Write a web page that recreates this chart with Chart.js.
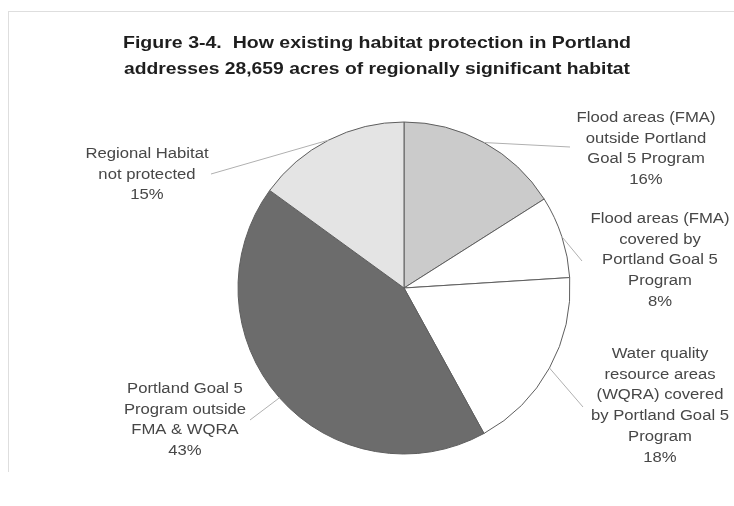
<!DOCTYPE html>
<html>
<head>
<meta charset="utf-8">
<script src="https://cdn.jsdelivr.net/npm/chart.js@4.4.1/dist/chart.umd.min.js"></script>
<style>
  html, body { margin: 0; padding: 0; background: #ffffff; }
  #wrap { position: relative; width: 734px; height: 506px; }
  #frame { position: absolute; left: 8px; top: 11px; width: 726px; height: 460px;
           border-top: 1px solid #dedede; border-left: 1px solid #dedede; }
  canvas { position: absolute; left: 0; top: 0; }
</style>
</head>
<body>
<div id="wrap">
  <div id="frame"></div>
  <canvas id="c" width="734" height="506"></canvas>
</div>
<script>
// ---- data ----
const titleLines = [
  "Figure 3-4.  How existing habitat protection in Portland",
  "addresses 28,659 acres of regionally significant habitat"
];
const categories = [
  ["Flood areas (FMA)", "outside Portland", "Goal 5 Program"],
  ["Flood areas (FMA)", "covered by", "Portland Goal 5", "Program"],
  ["Water quality", "resource areas", "(WQRA) covered", "by Portland Goal 5", "Program"],
  ["Portland Goal 5", "Program outside", "FMA & WQRA"],
  ["Regional Habitat", "not protected"]
];
const values = [16, 8, 18, 43, 15];
const sliceColors = ["#cbcbcb", "#ffffff", "#ffffff", "#6c6c6c", "#e4e4e4"];

// ---- label layout (pixel positions of text blocks and leader ends) ----
const labelLayout = [
  { x: 646, y: 118, ex: 570, ey: 147 },
  { x: 660, y: 219, ex: 582, ey: 261 },
  { x: 660, y: 354, ex: 583, ey: 407 },
  { x: 185, y: 389, ex: 250, ey: 420 },
  { x: 147, y: 154, ex: 211, ey: 174 }
];
const lineGap = 20.8;
const labelStretch = 1.19;

const labelPlugin = {
  id: 'pieLabels',
  afterDraw(chart) {
    const ctx = chart.ctx;
    const meta = chart.getDatasetMeta(0);
    ctx.save();
    // leader lines
    ctx.strokeStyle = '#b0b0b0';
    ctx.lineWidth = 1;
    meta.data.forEach((arc, i) => {
      const p = arc.getProps(['x', 'y', 'startAngle', 'endAngle', 'outerRadius'], true);
      const mid = (p.startAngle + p.endAngle) / 2;
      const ax = p.x + Math.cos(mid) * p.outerRadius;
      const ay = p.y + Math.sin(mid) * p.outerRadius;
      const L = labelLayout[i];
      ctx.beginPath();
      ctx.moveTo(ax, ay);
      ctx.lineTo(L.ex, L.ey);
      ctx.stroke();
    });
    // label texts
    ctx.fillStyle = '#474747';
    ctx.font = '14px "Liberation Sans", Arial, sans-serif';
    ctx.textAlign = 'center';
    ctx.textBaseline = 'middle';
    categories.forEach((lines, i) => {
      const L = labelLayout[i];
      const all = lines.concat([values[i] + '%']);
      all.forEach((t, k) => {
        ctx.save();
        ctx.translate(L.x, L.y + k * lineGap);
        ctx.scale(labelStretch, 1);
        ctx.fillText(t, 0, 0);
        ctx.restore();
      });
    });
    // title
    ctx.fillStyle = '#1e1e1e';
    ctx.font = 'bold 17px "Liberation Sans", Arial, sans-serif';
    const titleY = [43, 69];
    const titleW = [508, 506];
    titleLines.forEach((t, k) => {
      const w = ctx.measureText(t).width;
      ctx.save();
      ctx.translate(377, titleY[k]);
      ctx.scale(titleW[k] / w, 1);
      ctx.fillText(t, 0, 0);
      ctx.restore();
    });
    ctx.restore();
  }
};

new Chart(document.getElementById('c'), {
  type: 'pie',
  data: {
    labels: categories.map(l => l.join(' ')),
    datasets: [{
      data: values,
      backgroundColor: sliceColors,
      borderColor: '#5e5e5e',
      borderWidth: 1
    }]
  },
  options: {
    responsive: false,
    animation: false,
    radius: 166,
    layout: { padding: { left: 238, right: 164, top: 122, bottom: 52 } },
    plugins: {
      legend: { display: false },
      title: { display: false },
      tooltip: { enabled: false }
    }
  },
  plugins: [labelPlugin]
});
</script>
</body>
</html>
